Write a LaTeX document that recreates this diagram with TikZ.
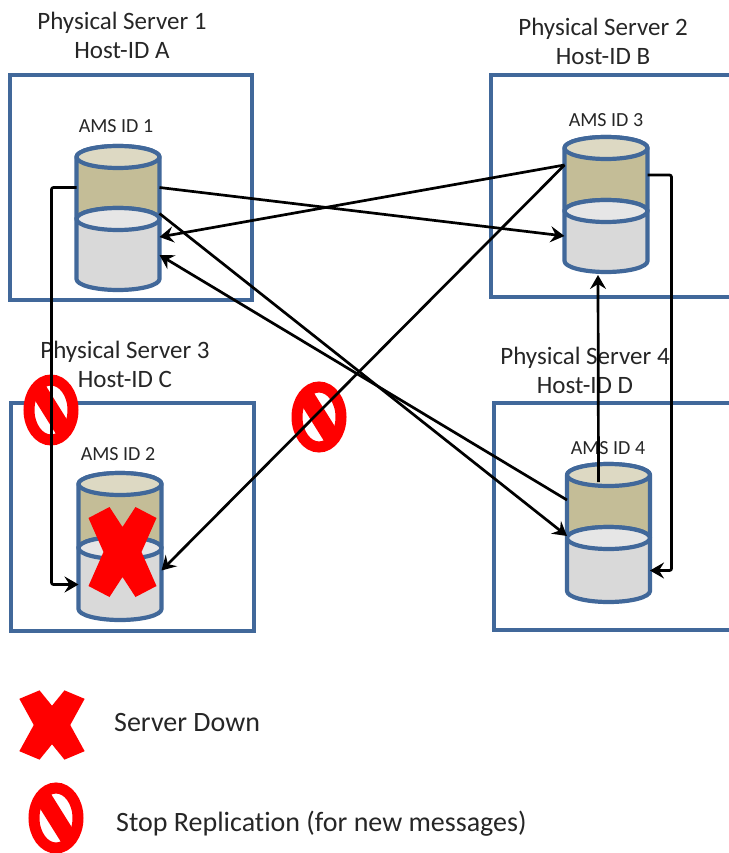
\documentclass[tikz,border=0pt]{standalone}
\usepackage{fontspec}
\setmainfont{Carlito}[Ligatures=NoCommon]
\usepackage{xcolor}
\usetikzlibrary{shapes.geometric, arrows.meta}

\definecolor{boxblue}{HTML}{41689A}
\definecolor{tanbody}{HTML}{C4BD97}
\definecolor{tanend}{HTML}{DDD9C3}
\definecolor{graybody}{HTML}{D9D9D9}
\definecolor{grayend}{HTML}{E6E6E6}
\definecolor{labelgray}{HTML}{262626}

\tikzset{
    serverbox/.style={rectangle, draw=boxblue, line width=4pt, fill=white, inner sep=0pt},
    hostlabel/.style={align=center, text=labelgray, font=\fontsize{25}{29}\selectfont, inner sep=0pt},
    amslabel/.style={text=labelgray, font=\fontsize{20}{22}\selectfont, inner sep=0pt},
    legendlabel/.style={text=labelgray, font=\fontsize{28}{32}\selectfont, anchor=west, inner sep=0pt},
    dbcan/.style={rectangle, inner sep=0pt, outer sep=0pt, minimum width=83pt},
    dbline/.style={draw=boxblue, line width=4.2pt, line join=round},
    link/.style={draw=black, line width=2.7pt, rounded corners=2pt, -{Stealth[length=14pt, width=16pt, inset=5pt]}}
}

\newcommand{\dbpart}[7]{
    \node[dbcan, minimum height=#5pt] (#1) at (#2, #3) {};
    \draw[dbline, fill=#6] ([yshift=-#4pt]#1.north west) -- ([yshift=#4pt]#1.south west)
        arc[start angle=180, end angle=360, x radius=41.5pt, y radius=#4pt]
        -- ([yshift=-#4pt]#1.north east)
        arc[start angle=0, end angle=180, x radius=41.5pt, y radius=#4pt] -- cycle;
    \draw[dbline, fill=#7] ([yshift=-#4pt]#1.north) ellipse[x radius=41.5pt, y radius=#4pt];
}
\newcommand{\stopsign}[3]{
    \node[ellipse, draw=red, line width=11pt, fill=white, inner sep=0pt, outer sep=0pt,
        minimum width=44pt, minimum height=60pt] (#1) at (#2, #3) {};
    \draw[red, line width=17pt] (#1.122) -- (#1.-58);
}
\newcommand{\downcross}[5]{
    \coordinate (#1) at (#2, #3);
    \fill[red, shift={(#1)}, x=#4pt, y=#5pt] (-34, -34) -- (-13, -45) -- (0, -25) -- (13, -45) -- (34, -34)
        -- (19, 0) -- (34, 34) -- (13, 45) -- (0, 25) -- (-13, 45) -- (-34, 34) -- (-19, 0) -- cycle;
}

\begin{document}
\begin{tikzpicture}[x=1pt, y=-1pt]
    \useasboundingbox (0, 0) rectangle (728, 853);

    % servers
    \node[serverbox, minimum width=242pt, minimum height=225pt] (srv1) at (131, 187.5) {};
    \node[serverbox, minimum width=250pt, minimum height=222pt] (srv2) at (616, 186) {};
    \node[serverbox, minimum width=243pt, minimum height=228pt] (srv3) at (132.5, 517) {};
    \node[serverbox, minimum width=250pt, minimum height=227pt] (srv4) at (619, 516.5) {};

    \node[hostlabel] (host1) at (122, 35) {Physical Server 1\\Host-ID A};
    \node[hostlabel] (host2) at (603, 41) {Physical Server 2\\Host-ID B};
    \node[hostlabel] (host3) at (125, 364) {Physical Server 3\\Host-ID C};
    \node[hostlabel] (host4) at (585, 370) {Physical Server 4\\Host-ID D};

    \node[amslabel] (ams1) at (116, 126) {AMS ID 1};
    \node[amslabel] (ams2) at (606, 120) {AMS ID 3};
    \node[amslabel] (ams3) at (118, 454) {AMS ID 2};
    \node[amslabel] (ams4) at (608, 448) {AMS ID 4};

    % databases
    \dbpart{db1u}{118}{187.5}{11}{83}{tanbody}{tanend}
    \dbpart{db1l}{118}{249}{11}{82}{graybody}{grayend}
    \dbpart{db2u}{606}{179}{11}{84}{tanbody}{tanend}
    \dbpart{db2l}{606}{236}{11}{72}{graybody}{grayend}
    \dbpart{db3u}{120}{515.5}{11}{85}{tanbody}{tanend}
    \dbpart{db3l}{120}{578.5}{11}{83}{graybody}{grayend}
    \dbpart{db4u}{608.5}{506}{11}{84}{tanbody}{tanend}
    \dbpart{db4l}{608.5}{564.5}{11}{75}{graybody}{grayend}

    % stop signs and the down mark
    \stopsign{stop1}{51}{410}
    \stopsign{stop2}{319}{417}
    \downcross{down1}{122.5}{552}{1}{1}

    % replication links
    \draw[link] (db1u.east) -- (db2l.west);
    \draw[link] ([yshift=14pt]db2u.west) -- ([yshift=12pt]db1l.east);
    \draw[link] (db1u.west) -| ([xshift=-27pt, yshift=-6pt]db3l.west) -- ([yshift=-6pt]db3l.west);
    \draw[link] ([yshift=-26pt]db1u.east) -- ([yshift=-30pt]db4u.west);
    \draw[link] ([yshift=6pt]db4u.west) -- ([yshift=-6pt]db1l.east);
    \draw[link] ([yshift=14pt]db2u.west) -- ([yshift=8pt]db3l.east);
    \draw[link] ([xshift=-10pt, yshift=24pt]db4u.center) -- ([xshift=-8pt, yshift=-3pt]db2l.south);
    \draw[link] ([yshift=4pt]db2u.east) -- ++(24, 0) |- ([yshift=-6pt]db4l.east);

    % legend
    \downcross{down2}{52}{725}{0.96}{0.77}
    \node[legendlabel] (leg1) at (114, 723) {Server Down};
    \stopsign{stop3}{56}{818}
    \node[legendlabel] (leg2) at (116, 824) {Stop Replication (for new messages)};
\end{tikzpicture}
\end{document}
